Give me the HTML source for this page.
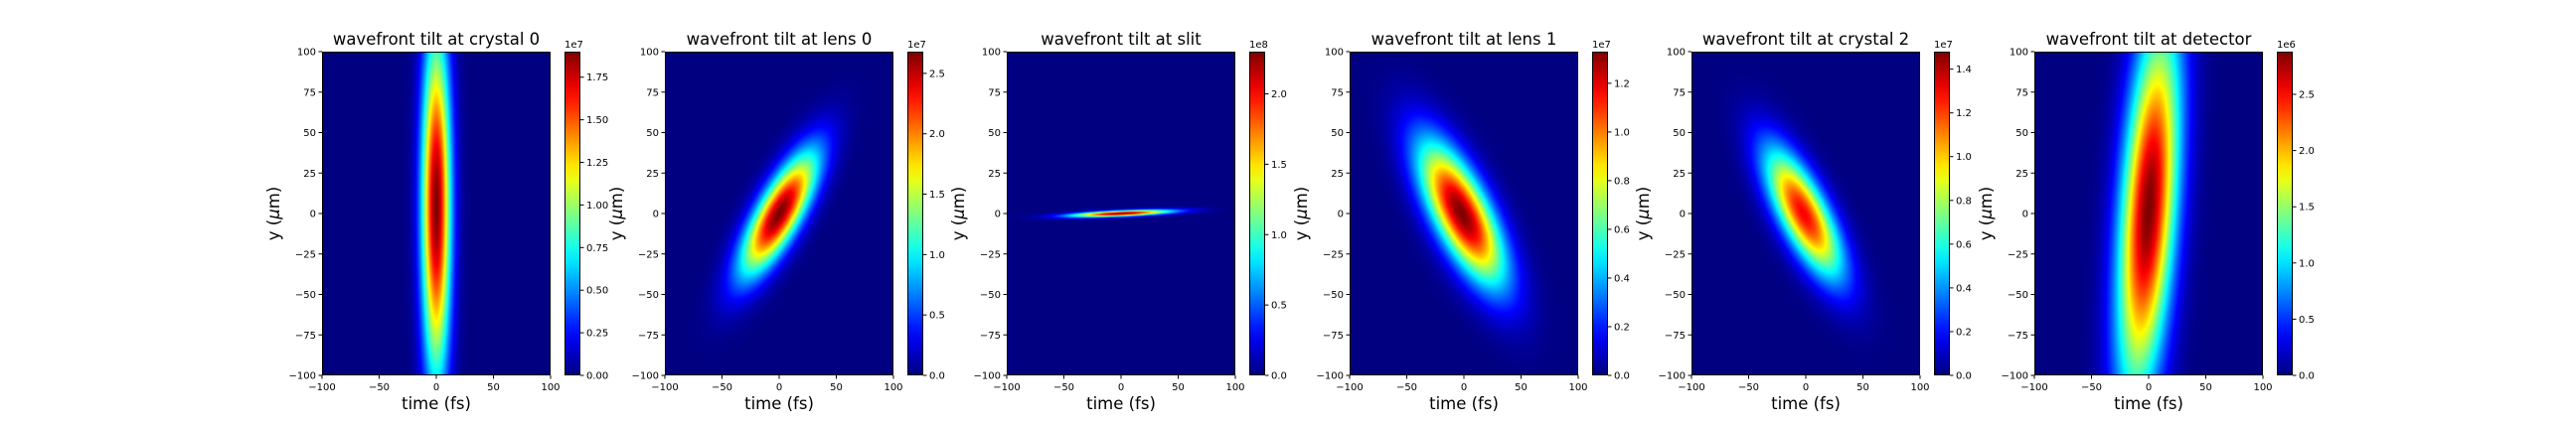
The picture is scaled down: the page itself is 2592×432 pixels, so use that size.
<!DOCTYPE html>
<html><head><meta charset="utf-8">
<style>
html,body{margin:0;padding:0;background:#fff;}
#wrap{position:relative;width:2592px;height:432px;overflow:hidden;font-family:"DejaVu Sans","Liberation Sans",sans-serif;}
canvas{position:absolute;}
svg{position:absolute;left:0;top:0;}
</style></head>
<body>
<div id="wrap">
<svg id="svg" width="2592" height="432" font-family="DejaVu Sans, Liberation Sans, sans-serif"></svg>
</div>
<script>
// ---- data ----
const titles = ["wavefront tilt at crystal 0","wavefront tilt at lens 0","wavefront tilt at slit","wavefront tilt at lens 1","wavefront tilt at crystal 2","wavefront tilt at detector"];
const peakValues = [1.90, 2.68, 2.30, 1.33, 1.30, 2.88];
const cbarMax = [1.90, 2.68, 2.30, 1.33, 1.48, 2.88];
const cbarExp = ["1e7","1e7","1e8","1e7","1e7","1e6"];
const cbarTicks = [
  ["0.00","0.25","0.50","0.75","1.00","1.25","1.50","1.75"],
  ["0.0","0.5","1.0","1.5","2.0","2.5"],
  ["0.0","0.5","1.0","1.5","2.0"],
  ["0.0","0.2","0.4","0.6","0.8","1.0","1.2"],
  ["0.0","0.2","0.4","0.6","0.8","1.0","1.2","1.4"],
  ["0.0","0.5","1.0","1.5","2.0","2.5"]
];
const tiltAngleDeg = [90, 49.6, 1.7, 128.7, 128.7, 84];
const sigmaMajor = [74, 33, 30, 37, 34, 80];
const sigmaMinor = [8.8, 11.5, 1.2, 15, 13, 16.5];
const centerT = [0, 0, 0, -2, -2, 0];
const centerY = [5, 0, 0, 0, 0, 3];
const xTicks = [-100,-50,0,50,100];
const yTicks = [-100,-75,-50,-25,0,25,50,75,100];

// ---- layout ----
const NS="http://www.w3.org/2000/svg";
const svg=document.getElementById('svg');
const wrap=document.getElementById('wrap');
const PW=230, PH=326, TOP=52, STEP=344.5, LEFT0=324;
function fmt(v){return String(v).replace('-','\u2212');}
function mk(tag,attrs,parent){const e=document.createElementNS(NS,tag);for(const k in attrs)e.setAttribute(k,attrs[k]);(parent||svg).appendChild(e);return e;}
function jet(x){const c=v=>Math.max(0,Math.min(1,v));return [c(1.5-Math.abs(4*x-3)),c(1.5-Math.abs(4*x-2)),c(1.5-Math.abs(4*x-1))];}

for(let p=0;p<6;p++){
  const L=Math.round(LEFT0+p*STEP);
  const xs=t=>L+(t+100)/200*PW;
  const ys=y=>TOP+(100-y)/200*PH;
  const cv=document.createElement('canvas');
  
  
  cv.width=PW;cv.height=PH;cv.style.left=L+'px';cv.style.top=TOP+'px';
  wrap.insertBefore(cv,svg);
  const ctx=cv.getContext('2d');const img=ctx.createImageData(PW,PH);
  const th=tiltAngleDeg[p]*Math.PI/180, ct=Math.cos(th), st=Math.sin(th);
  for(let j=0;j<PH;j++){
    const y=100-(j+0.5)/PH*200-centerY[p];
    for(let i=0;i<PW;i++){
      const t=-100+(i+0.5)/PW*200-centerT[p];
      const u=t*ct+y*st, v=-t*st+y*ct;
      const val=peakValues[p]*Math.exp(-0.5*(u*u/(sigmaMajor[p]**2)+v*v/(sigmaMinor[p]**2)));
      const c=jet(val/cbarMax[p]);const k=(j*PW+i)*4;
      img.data[k]=c[0]*255;img.data[k+1]=c[1]*255;img.data[k+2]=c[2]*255;img.data[k+3]=255;
    }
  }
  ctx.putImageData(img,0,0);
  const g=mk('g',{});
  
  
  const fr=mk('rect',{x:L+0.5,y:TOP+0.5,width:PW-1,height:PH-1,fill:'none',stroke:'#000','stroke-width':1},g);
  
  
  const tt=mk('text',{x:L+PW/2,y:45,'text-anchor':'middle','font-size':16.5,fill:'#000'},g);
  tt.textContent=titles[p];
  
  
  xTicks.forEach(t=>{
    mk('line',{x1:xs(t),x2:xs(t),y1:TOP+PH,y2:TOP+PH+3.5,stroke:'#000'},g);
    const tx=mk('text',{x:xs(t),y:TOP+PH+15,'text-anchor':'middle','font-size':10},g);
    tx.textContent=fmt(t);
    
    
  });
  yTicks.forEach(y=>{
    mk('line',{x1:L-3.5,x2:L,y1:ys(y),y2:ys(y),stroke:'#000'},g);
    const tx=mk('text',{x:L-6,y:ys(y)+3.5,'text-anchor':'end','font-size':10},g);
    tx.textContent=fmt(y);
    
    
  });
  const xl=mk('text',{x:L+PW/2,y:412,'text-anchor':'middle','font-size':16.5},g);
  xl.textContent='time (fs)';
  
  
  const yl=mk('text',{x:0,y:0,'text-anchor':'middle','font-size':16.5,transform:`translate(${L-43},${TOP+PH/2}) rotate(-90)`},g);
  yl.innerHTML='y (<tspan font-style="italic">\u03bc</tspan>m)';
  
  
  const CX=L+244, CW=16;
  const grad=mk('linearGradient',{id:'cg'+p,x1:0,y1:1,x2:0,y2:0},mk('defs',{},g));
  for(let s=0;s<=20;s++){const c=jet(s/20);mk('stop',{offset:s/20,'stop-color':`rgb(${c.map(v=>Math.round(v*255)).join(',')})`},grad);}
  const cb=mk('rect',{x:CX+0.5,y:TOP+0.5,width:CW-1,height:PH-1,fill:`url(#cg${p})`,stroke:'#000','stroke-width':1},g);
  
  
  const ex=mk('text',{x:CX,y:TOP-4,'font-size':10},g);
  ex.textContent=cbarExp[p];
  
  
  cbarTicks[p].forEach(lbl=>{
    const yy=TOP+PH-parseFloat(lbl)/cbarMax[p]*PH;
    mk('line',{x1:CX+CW,x2:CX+CW+3.5,y1:yy,y2:yy,stroke:'#000'},g);
    const tx=mk('text',{x:CX+CW+6,y:yy+3.5,'font-size':10},g);
    tx.textContent=lbl;
    
    
  });
}
</script>
</body></html>
